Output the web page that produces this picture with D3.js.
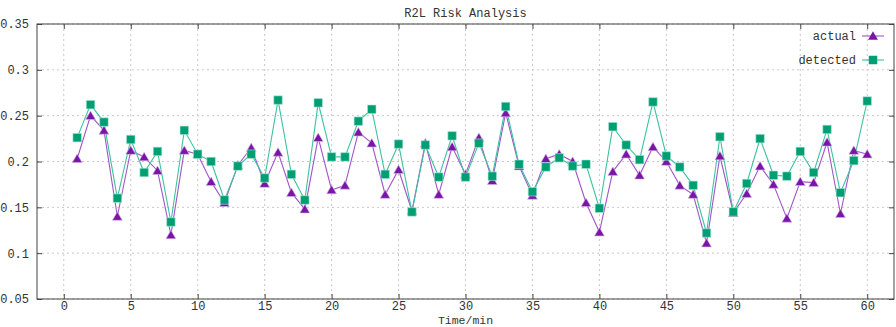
<!DOCTYPE html>
<html><head><meta charset="utf-8">
<script src="https://cdn.jsdelivr.net/npm/d3@7"></script>
<style>body{margin:0;background:#fff}svg{display:block}text{font-family:"Liberation Mono","DejaVu Sans Mono",monospace;fill:#333}</style>
</head><body><svg id="c" width="896" height="327"></svg>
<script>
const title = "R2L Risk Analysis";
const xLabel = "Time/min";
const minutes = d3.range(1, 61);
const actual = [0.203,0.250,0.234,0.140,0.212,0.205,0.190,0.120,0.212,0.208,
0.178,0.155,0.196,0.215,0.176,0.210,0.166,0.148,0.226,0.169,
0.174,0.232,0.220,0.164,0.191,0.146,0.220,0.164,0.216,0.186,
0.226,0.179,0.253,0.195,0.163,0.203,0.208,0.200,0.155,0.123,
0.189,0.208,0.185,0.216,0.200,0.174,0.164,0.111,0.206,0.144,
0.165,0.195,0.175,0.138,0.178,0.177,0.221,0.143,0.212,0.208];
const detected = [0.226,0.262,0.243,0.160,0.224,0.188,0.211,0.134,0.234,0.208,
0.200,0.158,0.195,0.208,0.182,0.267,0.186,0.158,0.264,0.205,
0.205,0.244,0.257,0.186,0.219,0.145,0.218,0.183,0.228,0.183,
0.220,0.184,0.260,0.197,0.167,0.194,0.204,0.195,0.197,0.149,
0.238,0.218,0.202,0.265,0.206,0.194,0.174,0.122,0.227,0.145,
0.176,0.225,0.185,0.184,0.211,0.188,0.235,0.166,0.201,0.266];
const xTicks = [0,5,10,15,20,25,30,35,40,45,50,55,60];
const yTicks = [0.05,0.1,0.15,0.2,0.25,0.3,0.35];
const seriesNames = ["actual","detected"];

const svg = d3.select("#c");
const L=37,R=894,T=24,B=299;
const x = d3.scaleLinear().domain([-2,62]).range([L,R]);
const y = d3.scaleLinear().domain([0.05,0.35]).range([B,T]);

const g = svg.append("g");
g.selectAll(".gx").data(xTicks).enter().append("line")
 .attr("x1",d=>x(d)).attr("x2",d=>x(d)).attr("y1",T).attr("y2",B)
 .attr("stroke","#c8c8c8").attr("stroke-dasharray","2,3").attr("stroke-width",1);
g.selectAll(".gy").data(yTicks).enter().append("line")
 .attr("y1",d=>y(d)).attr("y2",d=>y(d)).attr("x1",L).attr("x2",R)
 .attr("stroke","#c8c8c8").attr("stroke-dasharray","2,3").attr("stroke-width",1);

const fmtY = d=> d3.format(".2~f")(d);
svg.append("g").attr("transform",`translate(0,${B})`)
 .call(d3.axisBottom(x).tickValues(xTicks).tickSize(-5).tickPadding(2).tickFormat(d3.format("d")))
 .call(a=>{a.select(".domain").remove();a.selectAll("text").attr("font-size",12).style("font-family","Liberation Mono");});
svg.append("g").attr("transform",`translate(0,${T})`)
 .call(d3.axisTop(x).tickValues(xTicks).tickSize(-5).tickFormat(""))
 .call(a=>a.select(".domain").remove());
svg.append("g").attr("transform",`translate(${L},0)`)
 .call(d3.axisLeft(y).tickValues(yTicks).tickSize(-5).tickPadding(8).tickFormat(fmtY))
 .call(a=>{a.select(".domain").remove();a.selectAll("text").attr("font-size",12).style("font-family","Liberation Mono");});
svg.append("g").attr("transform",`translate(${R},0)`)
 .call(d3.axisRight(y).tickValues(yTicks).tickSize(-5).tickFormat(""))
 .call(a=>a.select(".domain").remove());
svg.selectAll(".tick line").attr("stroke","#444");
svg.selectAll(".tick text").attr("fill","#333");
svg.append("rect").attr("x",L).attr("y",T).attr("width",R-L).attr("height",B-T)
 .attr("fill","none").attr("stroke","#444").attr("stroke-width",1);

svg.append("text").attr("x",(L+R)/2).attr("y",17).attr("text-anchor","middle").attr("font-size",12).text(title);
svg.append("text").attr("x",(L+R)/2).attr("y",323.5).attr("text-anchor","middle").attr("font-size",11.5).text(xLabel);

const line = d3.line().x((d,i)=>x(minutes[i])).y(d=>y(d));
const tri = d3.symbol().type(d3.symbolTriangle).size(42);
const sq = d3.symbol().type(d3.symbolSquare).size(72);

const series = [
 {name:seriesNames[0], data:actual, line:"#a055c8", fill:"#7a16a6", edge:"#d4b8e6", sym:tri},
 {name:seriesNames[1], data:detected, line:"#3cc2a0", fill:"#009e73", edge:"#a8e6d4", sym:sq}
];
series.forEach(s=>{
  svg.append("path").datum(s.data).attr("d",line).attr("fill","none").attr("stroke",s.line).attr("stroke-width",1.1);
});
series.forEach(s=>{
  svg.append("g").selectAll("path").data(s.data).enter().append("path")
   .attr("d",s.sym).attr("transform",(d,i)=>`translate(${x(minutes[i])},${y(d)+(s.sym===tri?1:0)})`)
   .attr("fill",s.fill).attr("stroke",s.edge).attr("stroke-opacity",0.6).attr("stroke-width",1);
});

series.forEach((s,k)=>{
  const ly = 36 + k*24;
  svg.append("text").attr("x",856).attr("y",ly+4).attr("text-anchor","end").attr("font-size",12).text(s.name);
  svg.append("line").attr("x1",862).attr("x2",884).attr("y1",ly).attr("y2",ly).attr("stroke",s.line).attr("stroke-width",1.1);
  svg.append("path").attr("d",s.sym).attr("transform",`translate(873,${ly+(s.sym===tri?1:0)})`).attr("fill",s.fill);
});
</script></body></html>
